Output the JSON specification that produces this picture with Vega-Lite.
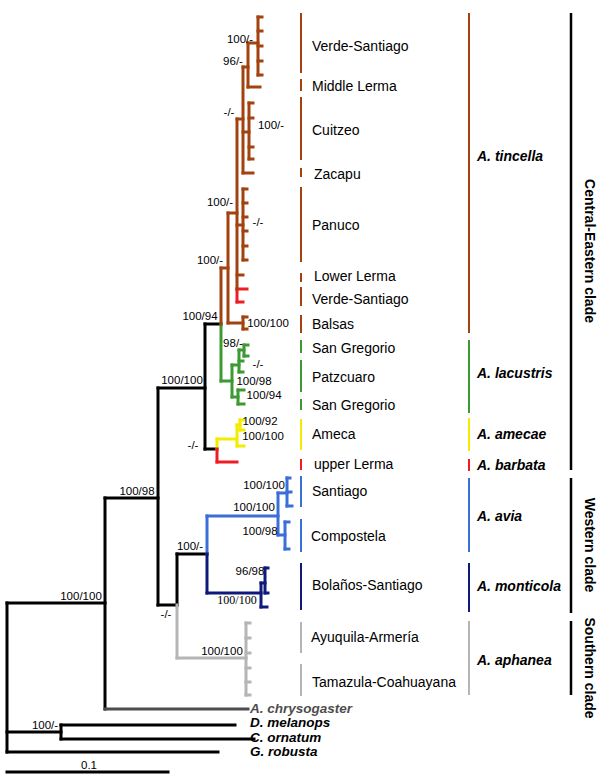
{
  "$schema": "https://vega.github.io/schema/vega-lite/v6.json",
  "width": 600,
  "height": 784,
  "autosize": {"type": "none"},
  "padding": 0,
  "background": "white",
  "config": {"view": {"stroke": null}, "text": {"font": "Liberation Sans"}},
  "datasets": {
    "segs": [
      {"x":7,"x2":7,"y":603,"y2":752,"c":"k"},{"x":7,"x2":105,"y":603,"y2":603,"c":"k"},{"x":7,"x2":61,"y":732,"y2":732,"c":"k"},{"x":61,"x2":61,"y":725,"y2":739,"c":"k"},{"x":61,"x2":235,"y":725,"y2":725,"c":"k"},{"x":61,"x2":254,"y":739,"y2":739,"c":"k"},{"x":7,"x2":218,"y":752,"y2":752,"c":"k"},{"x":105,"x2":105,"y":498,"y2":709,"c":"k"},{"x":105,"x2":158,"y":498,"y2":498,"c":"k"},{"x":158,"x2":158,"y":388,"y2":605,"c":"k"},{"x":158,"x2":205,"y":388,"y2":388,"c":"k"},{"x":158,"x2":177,"y":605,"y2":605,"c":"k"},{"x":177,"x2":177,"y":554,"y2":605,"c":"k"},{"x":177,"x2":207,"y":554,"y2":554,"c":"k"},{"x":205,"x2":205,"y":324,"y2":449,"c":"k"},{"x":205,"x2":221,"y":324,"y2":324,"c":"k"},{"x":205,"x2":217,"y":449,"y2":449,"c":"k"},{"x":7,"x2":168,"y":772,"y2":772,"c":"k"},
      {"x":105,"x2":248,"y":709,"y2":709,"c":"dg"},
      {"x":177,"x2":177,"y":605,"y2":658,"c":"ga"},{"x":177,"x2":246,"y":658,"y2":658,"c":"ga"},{"x":246,"x2":246,"y":623,"y2":695,"c":"ga"},{"x":246,"x2":250,"y":623,"y2":623,"c":"ga"},{"x":246,"x2":250,"y":638,"y2":638,"c":"ga"},{"x":246,"x2":250,"y":653,"y2":653,"c":"ga"},{"x":246,"x2":250,"y":668,"y2":668,"c":"ga"},{"x":246,"x2":250,"y":682,"y2":682,"c":"ga"},{"x":246,"x2":250,"y":695,"y2":695,"c":"ga"},
      {"x":207,"x2":207,"y":516,"y2":554,"c":"bl"},{"x":207,"x2":278,"y":516,"y2":516,"c":"bl"},{"x":278,"x2":278,"y":493,"y2":535,"c":"bl"},{"x":278,"x2":287,"y":493,"y2":493,"c":"bl"},{"x":287,"x2":287,"y":478,"y2":506,"c":"bl"},{"x":287,"x2":290,"y":478,"y2":478,"c":"bl"},{"x":287,"x2":291,"y":492,"y2":492,"c":"bl"},{"x":287,"x2":292,"y":506,"y2":506,"c":"bl"},{"x":278,"x2":285,"y":535,"y2":535,"c":"bl"},{"x":285,"x2":285,"y":522,"y2":549,"c":"bl"},{"x":285,"x2":289,"y":522,"y2":522,"c":"bl"},{"x":285,"x2":289,"y":549,"y2":549,"c":"bl"},
      {"x":207,"x2":207,"y":554,"y2":593,"c":"nv"},{"x":207,"x2":261,"y":593,"y2":593,"c":"nv"},{"x":261,"x2":261,"y":583,"y2":607,"c":"nv"},{"x":261,"x2":267,"y":607,"y2":607,"c":"nv"},{"x":261,"x2":265,"y":583,"y2":583,"c":"nv"},{"x":265,"x2":265,"y":568,"y2":593,"c":"nv"},{"x":265,"x2":268,"y":568,"y2":568,"c":"nv"},{"x":265,"x2":268,"y":593,"y2":593,"c":"nv"},
      {"x":217,"x2":217,"y":439,"y2":449,"c":"ye"},{"x":217,"x2":237,"y":439,"y2":439,"c":"ye"},{"x":237,"x2":237,"y":425,"y2":446,"c":"ye"},{"x":237,"x2":244,"y":446,"y2":446,"c":"ye"},{"x":237,"x2":240,"y":425,"y2":425,"c":"ye"},{"x":240,"x2":240,"y":420,"y2":430,"c":"ye"},{"x":240,"x2":244,"y":420,"y2":420,"c":"ye"},{"x":240,"x2":244,"y":430,"y2":430,"c":"ye"},
      {"x":217,"x2":217,"y":449,"y2":462,"c":"rd"},{"x":217,"x2":237,"y":462,"y2":462,"c":"rd"},{"x":237,"x2":237,"y":289,"y2":302,"c":"rd"},{"x":237,"x2":247,"y":289,"y2":289,"c":"rd"},{"x":237,"x2":243,"y":302,"y2":302,"c":"rd"},
      {"x":221,"x2":221,"y":324,"y2":381,"c":"gr"},{"x":221,"x2":232,"y":381,"y2":381,"c":"gr"},{"x":232,"x2":232,"y":365,"y2":397,"c":"gr"},{"x":232,"x2":239,"y":365,"y2":365,"c":"gr"},{"x":239,"x2":239,"y":350,"y2":372,"c":"gr"},{"x":239,"x2":244,"y":350,"y2":350,"c":"gr"},{"x":244,"x2":244,"y":345,"y2":356,"c":"gr"},{"x":244,"x2":248,"y":345,"y2":345,"c":"gr"},{"x":244,"x2":248,"y":356,"y2":356,"c":"gr"},{"x":239,"x2":243,"y":361,"y2":361,"c":"gr"},{"x":239,"x2":243,"y":372,"y2":372,"c":"gr"},{"x":232,"x2":238,"y":397,"y2":397,"c":"gr"},{"x":238,"x2":238,"y":390,"y2":404,"c":"gr"},{"x":238,"x2":244,"y":390,"y2":390,"c":"gr"},{"x":238,"x2":244,"y":404,"y2":404,"c":"gr"},
      {"x":221,"x2":221,"y":268,"y2":324,"c":"br"},{"x":221,"x2":228,"y":268,"y2":268,"c":"br"},{"x":228,"x2":228,"y":213,"y2":323,"c":"br"},{"x":228,"x2":243,"y":323,"y2":323,"c":"br"},{"x":243,"x2":243,"y":317,"y2":329,"c":"br"},{"x":243,"x2":247,"y":317,"y2":317,"c":"br"},{"x":243,"x2":247,"y":329,"y2":329,"c":"br"},{"x":228,"x2":237,"y":213,"y2":213,"c":"br"},{"x":237,"x2":237,"y":119,"y2":289,"c":"br"},{"x":237,"x2":243,"y":119,"y2":119,"c":"br"},{"x":243,"x2":243,"y":67,"y2":173,"c":"br"},{"x":243,"x2":248,"y":67,"y2":67,"c":"br"},{"x":248,"x2":248,"y":43,"y2":87,"c":"br"},{"x":248,"x2":260,"y":87,"y2":87,"c":"br"},{"x":248,"x2":258,"y":43,"y2":43,"c":"br"},{"x":258,"x2":258,"y":17,"y2":75,"c":"br"},{"x":258,"x2":262,"y":17,"y2":17,"c":"br"},{"x":258,"x2":262,"y":31,"y2":31,"c":"br"},{"x":258,"x2":262,"y":46,"y2":46,"c":"br"},{"x":258,"x2":262,"y":61,"y2":61,"c":"br"},{"x":258,"x2":262,"y":75,"y2":75,"c":"br"},{"x":243,"x2":249,"y":132,"y2":132,"c":"br"},{"x":249,"x2":249,"y":103,"y2":159,"c":"br"},{"x":249,"x2":253,"y":103,"y2":103,"c":"br"},{"x":249,"x2":253,"y":118,"y2":118,"c":"br"},{"x":249,"x2":253,"y":147,"y2":147,"c":"br"},{"x":249,"x2":253,"y":159,"y2":159,"c":"br"},{"x":243,"x2":253,"y":173,"y2":173,"c":"br"},{"x":237,"x2":243,"y":225,"y2":225,"c":"br"},{"x":243,"x2":243,"y":189,"y2":260,"c":"br"},{"x":243,"x2":247,"y":189,"y2":189,"c":"br"},{"x":243,"x2":247,"y":203,"y2":203,"c":"br"},{"x":243,"x2":247,"y":217,"y2":217,"c":"br"},{"x":243,"x2":247,"y":231,"y2":231,"c":"br"},{"x":243,"x2":247,"y":246,"y2":246,"c":"br"},{"x":243,"x2":247,"y":260,"y2":260,"c":"br"},{"x":237,"x2":243,"y":275,"y2":275,"c":"br"}
    ],
    "bars": [
      {"x":301,"y":13,"y2":73,"c":"br"},{"x":301,"y":79,"y2":91,"c":"br"},{"x":301,"y":97,"y2":160,"c":"br"},{"x":301,"y":168,"y2":177,"c":"br"},{"x":301,"y":187,"y2":262,"c":"br"},{"x":301,"y":273,"y2":282,"c":"br"},{"x":301,"y":287,"y2":306,"c":"br"},{"x":301,"y":315,"y2":333,"c":"br"},{"x":301,"y":340,"y2":353,"c":"gr"},{"x":301,"y":360,"y2":392,"c":"gr"},{"x":301,"y":399,"y2":410,"c":"gr"},{"x":301,"y":419,"y2":450,"c":"ye"},{"x":301,"y":459,"y2":470,"c":"rd"},{"x":301,"y":476,"y2":507,"c":"bl"},{"x":301,"y":519,"y2":552,"c":"bl"},{"x":301,"y":563,"y2":610,"c":"nv"},{"x":301,"y":622,"y2":653,"c":"ga"},{"x":301,"y":664,"y2":696,"c":"ga"},
      {"x":469,"y":13,"y2":333,"c":"br"},{"x":469,"y":340,"y2":413,"c":"gr"},{"x":469,"y":418,"y2":451,"c":"ye"},{"x":469,"y":459,"y2":471,"c":"rd"},{"x":469,"y":478,"y2":552,"c":"bl"},{"x":469,"y":563,"y2":612,"c":"nv"},{"x":469,"y":621,"y2":695,"c":"ga"}
    ],
    "groups": [
      {"x":571,"y":13,"y2":470,"c":"k"},{"x":571,"y":478,"y2":613,"c":"k"},{"x":571,"y":621,"y2":695,"c":"k"}
    ],
    "tips": [
      {"t":"Verde-Santiago","x":312,"y":47},{"t":"Middle Lerma","x":312,"y":87},{"t":"Cuitzeo","x":312,"y":131},{"t":"Zacapu","x":314,"y":175},{"t":"Panuco","x":312,"y":226},{"t":"Lower Lerma","x":314,"y":277},{"t":"Verde-Santiago","x":312,"y":300},{"t":"Balsas","x":312,"y":325},{"t":"San Gregorio","x":312,"y":349},{"t":"Patzcuaro","x":312,"y":378},{"t":"San Gregorio","x":312,"y":406},{"t":"Ameca","x":312,"y":435},{"t":"upper Lerma","x":314,"y":465},{"t":"Santiago","x":312,"y":492},{"t":"Compostela","x":311,"y":537},{"t":"Bolaños-Santiago","x":312,"y":586},{"t":"Ayuquila-Armería","x":311,"y":638},{"t":"Tamazula-Coahuayana","x":312,"y":683}
    ],
    "species": [
      {"t":"A. tincella","x":477,"y":157,"c":"k"},{"t":"A. lacustris","x":477,"y":374,"c":"k"},{"t":"A. amecae","x":477,"y":435,"c":"k"},{"t":"A. barbata","x":477,"y":466,"c":"k"},{"t":"A. avia","x":477,"y":517,"c":"k"},{"t":"A. monticola","x":477,"y":587,"c":"k"},{"t":"A. aphanea","x":477,"y":661,"c":"k"}
    ],
    "outgroups": [
      {"t":"A. chrysogaster","x":250,"y":709,"c":"dg"},{"t":"D. melanops","x":250,"y":723,"c":"k"},{"t":"C. ornatum","x":250,"y":738,"c":"k"},{"t":"G. robusta","x":250,"y":752,"c":"k"}
    ],
    "cladenames": [
      {"t":"Central-Eastern clade","x":589,"y":251},{"t":"Western clade","x":589,"y":545},{"t":"Southern clade","x":589,"y":668}
    ],
    "support": [
      {"t":"100/100","x":81,"y":597},{"t":"100/-","x":45,"y":726},{"t":"100/98","x":137,"y":492},{"t":"100/100","x":182,"y":381},{"t":"100/94","x":200,"y":317},{"t":"-/-","x":193,"y":446},{"t":"100/-","x":190,"y":547},{"t":"-/-","x":166,"y":615},{"t":"96/98","x":250,"y":572},{"t":"100/100","x":222,"y":652},{"t":"100/100","x":264,"y":486},{"t":"100/100","x":254,"y":508},{"t":"100/98","x":260,"y":532},{"t":"100/92","x":260,"y":422},{"t":"100/100","x":263,"y":437},{"t":"98/-","x":233,"y":344},{"t":"-/-","x":258,"y":365},{"t":"100/98","x":254,"y":382},{"t":"100/94","x":264,"y":396},{"t":"100/100","x":268,"y":324},{"t":"100/-","x":240,"y":40},{"t":"96/-","x":233,"y":62},{"t":"-/-","x":229,"y":113},{"t":"100/-","x":271,"y":126},{"t":"100/-","x":220,"y":203},{"t":"-/-","x":258,"y":223},{"t":"100/-","x":210,"y":261},{"t":"0.1","x":89,"y":766}
    ],
    "supportSerif": [
      {"t":"100/100","x":237,"y":600}
    ]
  },
  "layer": [
    {
      "data": {"name": "segs"},
      "mark": {"type": "rule", "strokeWidth": 3, "strokeCap": "square"},
      "encoding": {
        "x": {"field": "x", "type": "quantitative", "scale": {"domain": [0, 600], "nice": false, "zero": false}, "axis": null},
        "x2": {"field": "x2"},
        "y": {"field": "y", "type": "quantitative", "scale": {"domain": [0, 784], "nice": false, "zero": false, "reverse": true}, "axis": null},
        "y2": {"field": "y2"},
        "color": {"field": "c", "type": "nominal", "legend": null,
          "scale": {"domain": ["k","dg","ga","bl","nv","ye","rd","gr","br"],
                    "range": ["#000000","#4d4d4d","#b5b5b5","#3a6fd8","#0f1a78","#f2ec00","#ee1c24","#3c9a32","#a3420f"]}}
      }
    },
    {
      "data": {"name": "bars"},
      "mark": {"type": "rule", "strokeWidth": 2},
      "encoding": {
        "x": {"field": "x", "type": "quantitative"},
        "y": {"field": "y", "type": "quantitative"},
        "y2": {"field": "y2"},
        "color": {"field": "c", "type": "nominal", "legend": null}
      }
    },
    {
      "data": {"name": "groups"},
      "mark": {"type": "rule", "strokeWidth": 2.5},
      "encoding": {
        "x": {"field": "x", "type": "quantitative"},
        "y": {"field": "y", "type": "quantitative"},
        "y2": {"field": "y2"},
        "color": {"field": "c", "type": "nominal", "legend": null}
      }
    },
    {
      "data": {"name": "tips"},
      "mark": {"type": "text", "align": "left", "baseline": "middle", "fontSize": 14, "color": "#000000"},
      "encoding": {
        "x": {"field": "x", "type": "quantitative"},
        "y": {"field": "y", "type": "quantitative"},
        "text": {"field": "t"}
      }
    },
    {
      "data": {"name": "species"},
      "mark": {"type": "text", "align": "left", "baseline": "middle", "fontSize": 14, "fontWeight": "bold", "fontStyle": "italic"},
      "encoding": {
        "x": {"field": "x", "type": "quantitative"},
        "y": {"field": "y", "type": "quantitative"},
        "text": {"field": "t"},
        "color": {"field": "c", "type": "nominal", "legend": null}
      }
    },
    {
      "data": {"name": "outgroups"},
      "mark": {"type": "text", "align": "left", "baseline": "middle", "fontSize": 13.5, "fontWeight": "bold", "fontStyle": "italic"},
      "encoding": {
        "x": {"field": "x", "type": "quantitative"},
        "y": {"field": "y", "type": "quantitative"},
        "text": {"field": "t"},
        "color": {"field": "c", "type": "nominal", "legend": null}
      }
    },
    {
      "data": {"name": "cladenames"},
      "mark": {"type": "text", "align": "center", "baseline": "middle", "fontSize": 14, "fontWeight": "bold", "angle": 90, "color": "#000000"},
      "encoding": {
        "x": {"field": "x", "type": "quantitative"},
        "y": {"field": "y", "type": "quantitative"},
        "text": {"field": "t"}
      }
    },
    {
      "data": {"name": "support"},
      "mark": {"type": "text", "align": "center", "baseline": "middle", "fontSize": 11.5, "color": "#000000"},
      "encoding": {
        "x": {"field": "x", "type": "quantitative"},
        "y": {"field": "y", "type": "quantitative"},
        "text": {"field": "t"}
      }
    },
    {
      "data": {"name": "supportSerif"},
      "mark": {"type": "text", "align": "center", "baseline": "middle", "fontSize": 12, "font": "Liberation Serif", "color": "#000000"},
      "encoding": {
        "x": {"field": "x", "type": "quantitative"},
        "y": {"field": "y", "type": "quantitative"},
        "text": {"field": "t"}
      }
    }
  ]
}
